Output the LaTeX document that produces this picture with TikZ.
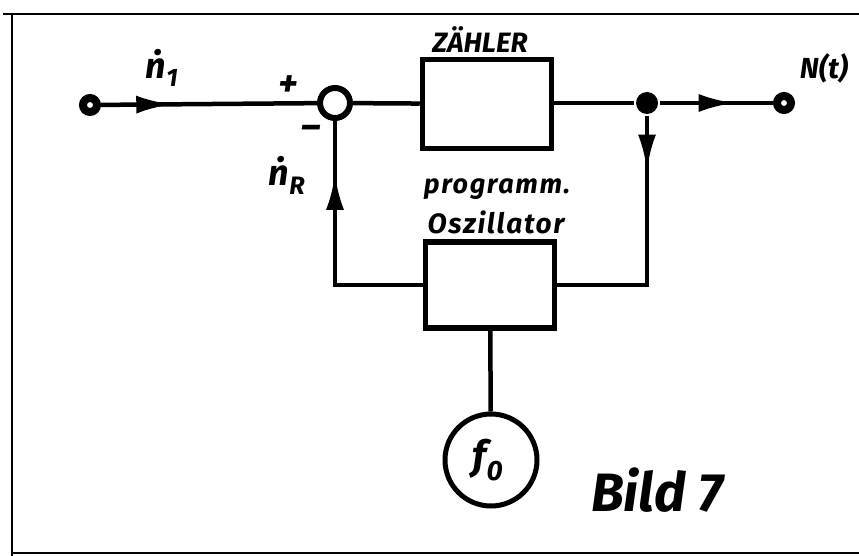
\documentclass[tikz,border=0pt]{standalone}
\usepackage{fontspec}
\newfontfamily\handfont{Fira Sans}
\newfontfamily\handwide{Fira Sans}[LetterSpace=6]
\usetikzlibrary{arrows.meta,decorations.markings}

\tikzset{
  block/.style={draw, line width=5.5pt, minimum width=129pt, minimum height=89pt},
  port/.style={circle, draw, fill=white, line width=8pt, minimum size=14pt, inner sep=0pt},
  flow/.style={postaction={decorate}, decoration={markings,
      mark=at position #1 with {\arrow{Latex[length=36pt,width=18pt]}}}}
}
\newcommand{\handsize}[1]{\handfont\bfseries\itshape\fontsize{#1}{#1}\selectfont}

\begin{document}
\begin{tikzpicture}[x=1pt, y=-1pt, line width=4.5pt,
    every node/.style={font=\handsize{26}}]
	\useasboundingbox (0,0) rectangle (859,556);
	% frame
	\draw[line width=2.5pt] (3,14) -- (859,14);
	\draw[line width=2.5pt] (12,14) -- (12,556);
	\draw[line width=2.5pt] (12,553) -- (859,553);
	% blocks
	\node[port] (in) at (90,105) {};
	\node[circle, draw, line width=6pt, minimum size=30pt, inner sep=0pt] (sum) at (335,103) {};
	\node[block] (zaehler) at (487,104) {};
	\node[circle, fill, minimum size=22pt, inner sep=0pt] (split) at (647,103) {};
	\node[port] (out) at (784,103) {};
	\node[block, minimum height=86pt] (osz) at (490,285) {};
	\node[circle, draw, line width=5pt, minimum size=92pt, inner sep=0pt] (fnull) at (491,460) {};
	% connections
	\draw[flow=0.33] (in) -- (sum);
	\draw (sum) -- (zaehler);
	\draw (zaehler.east |- split) -- (split);
	\draw[flow=0.66] (split) -- (out);
	\draw[flow=0.21] (split) |- (osz.east);
	\draw[flow=0.79] (osz.west) -| (sum.south);
	\draw (osz) -- (fnull);
	% labels
	\node[font=\handsize{28}] at (480,40) {ZÄHLER};
	\node[font=\handsize{27}\handwide] at (497,189) {programm.};
	\node[font=\handsize{28}\handwide] at (496,222) {Oszillator};
	\node[font=\handsize{29}] at (824,68) {N(t)};
	\node[font=\handsize{36}] at (162,68) {ṅ\textsubscript{1}};
	\node[font=\handsize{36}] at (287,175) {ṅ\textsubscript{R}};
	\node[font=\handsize{38}] at (288,86) {+};
	\node[font=\handsize{38}] at (311,132) {–};
	\node[font=\handsize{40}] at (488,460) {f\textsubscript{0}};
	\node[font=\handsize{54}] at (657,490) {Bild 7};
\end{tikzpicture}
\end{document}
